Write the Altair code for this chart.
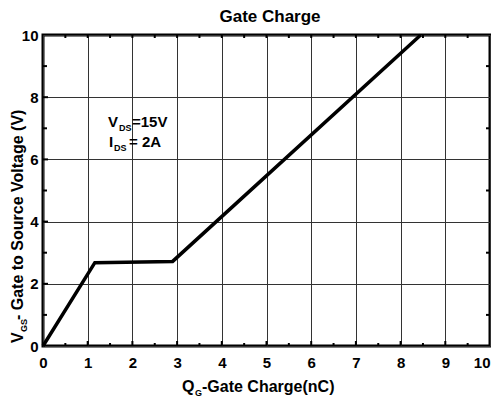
import altair as alt
import pandas as pd

# ---- data ----
qg = [0.0, 1.16, 2.9, 8.45]          # gate charge (nC)
vgs = [0.0, 2.68, 2.72, 10.0]        # gate-source voltage (V)

x_labels = [0, 1, 2, 3, 4, 5, 6, 7, 8, 9, 10]
y_labels = [0, 2, 4, 6, 8, 10]
x_major = [1, 2, 3, 4, 5, 6, 7, 8, 9]
x_minor = [0.5, 1.5, 2.5, 3.5, 4.5, 5.5, 6.5, 7.5, 8.5, 9.5]
y_major = [2, 4, 6, 8]
y_minor = [1, 3, 5, 7, 9]

W, H = 447, 311
FONT = "Liberation Sans"

xs = alt.Scale(domain=[0, 10], nice=False, zero=False)
ys = alt.Scale(domain=[0, 10], nice=False, zero=False)

xaxis = alt.Axis(values=x_labels, format="d", grid=True, gridColor="#333333",
                 gridWidth=1, ticks=False, domain=False, labelFont=FONT,
                 labelFontSize=15, labelFontWeight="bold", labelColor="black",
                 labelPadding=9, labelFlush=False, title=None,
                 labelAlign=alt.expr("datum.value == 10 ? 'right' : 'center'"))
yaxis = alt.Axis(values=y_labels, format="d", grid=True, gridColor="#333333",
                 gridWidth=1, ticks=False, domain=False, labelFont=FONT,
                 labelFontSize=15, labelFontWeight="bold", labelColor="black",
                 labelPadding=5, labelFlush=False, title=None)


def X(f):
    return alt.X(f, type="quantitative", scale=xs, axis=xaxis)


def Y(f):
    return alt.Y(f, type="quantitative", scale=ys, axis=yaxis)


curve = pd.DataFrame({"q": qg, "v": vgs})
line = alt.Chart(curve).mark_line(color="black", strokeWidth=3.5,
                                  strokeJoin="miter").encode(x=X("q"), y=Y("v"))

# inward ticks
bx_major = alt.Chart(pd.DataFrame({"q": x_major})).mark_rule(
    color="black", strokeWidth=2).encode(x=X("q"), y=alt.value(H), y2=alt.value(H - 5))
bx_minor = alt.Chart(pd.DataFrame({"q": x_minor})).mark_rule(
    color="black", strokeWidth=2).encode(x=X("q"), y=alt.value(H), y2=alt.value(H - 3))
tx_minor = alt.Chart(pd.DataFrame({"q": x_minor})).mark_rule(
    color="black", strokeWidth=2).encode(x=X("q"), y=alt.value(0), y2=alt.value(3))
tx_major = alt.Chart(pd.DataFrame({"q": x_major})).mark_rule(
    color="black", strokeWidth=2).encode(x=X("q"), y=alt.value(0), y2=alt.value(3))
ly_minor = alt.Chart(pd.DataFrame({"v": y_minor})).mark_rule(
    color="black", strokeWidth=2).encode(y=Y("v"), x=alt.value(0), x2=alt.value(4))
ly_major = alt.Chart(pd.DataFrame({"v": y_major})).mark_rule(
    color="black", strokeWidth=2).encode(y=Y("v"), x=alt.value(0), x2=alt.value(5))
ry_minor = alt.Chart(pd.DataFrame({"v": y_minor})).mark_rule(
    color="black", strokeWidth=2).encode(y=Y("v"), x=alt.value(W), x2=alt.value(W - 4))


def txt(s, x, y, size, angle=0, align="left"):
    return alt.Chart(pd.DataFrame({"t": [s]})).mark_text(
        text=s, font=FONT, fontSize=size, fontWeight="bold", color="black",
        align=align, baseline="alphabetic", angle=angle
    ).encode(x=alt.value(x), y=alt.value(y))


texts = [
    txt("Gate Charge", 227, -13, 17, align="center"),
    # x title
    txt("Q", 139, 357, 16),
    txt("G", 152, 361, 9),
    txt("-Gate Charge(nC)", 159, 357, 16),
    # y title (rotated)
    txt("V", -20, 308, 16, angle=270),
    txt("GS", -16, 297, 9, angle=270),
    txt("- Gate to Source Voltage (V)", -20, 285, 16, angle=270),
    # annotation
    txt("V", 65, 92, 15),
    txt("DS", 76, 96, 9),
    txt("=15V", 89, 92, 15),
    txt("I", 66, 112, 15),
    txt("DS", 71, 116, 9),
    txt("= 2A", 86, 112, 15),
]

chart = alt.layer(
    line, bx_major, bx_minor, tx_minor, tx_major, ly_minor, ly_major, ry_minor, *texts
).properties(
    width=W, height=H,
    autosize=alt.AutoSizeParams(type="none"),
    padding={"left": 35, "top": 27, "right": 1, "bottom": 51},
).configure_view(stroke="black", strokeWidth=3)

chart.save("out.html", embed_options={"renderer": "svg", "actions": False})
